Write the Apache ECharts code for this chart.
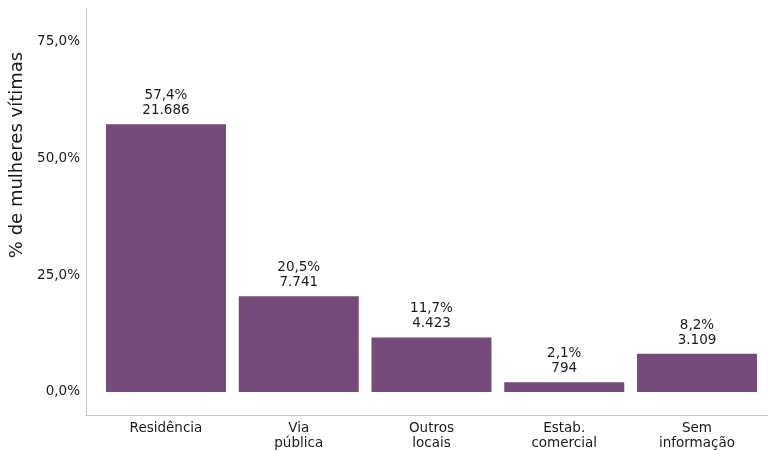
<!DOCTYPE html>
<html>
<head>
<meta charset="utf-8">
<script src="https://cdn.jsdelivr.net/npm/echarts@6/dist/echarts.min.js"></script>
<style>html,body{margin:0;padding:0;background:#fff}#c{width:768px;height:451px}</style>
</head>
<body>
<div id="c"></div>
<script>
const categories = ["Residência", "Via\npública", "Outros\nlocais", "Estab.\ncomercial", "Sem\ninformação"];
const percentValues = [57.4, 20.5, 11.7, 2.1, 8.2];
const countValues = [21686, 7741, 4423, 794, 3109];
const yTickValues = [0, 25, 50, 75];
const yAxisTitle = "% de mulheres vítimas";

const FONT = "DejaVu Sans";
function fmtPct(v) { return v.toFixed(1).replace('.', ',') + '%'; }
function fmtCount(v) { return String(v).replace(/\B(?=(\d{3})+(?!\d))/g, '.'); }

const chart = echarts.init(document.getElementById('c'), null, {renderer: 'canvas'});
chart.setOption({
  animation: false,
  backgroundColor: '#fff',
  textStyle: {fontFamily: FONT},
  grid: {left: 86, right: 0, top: 9, bottom: 36},
  xAxis: {
    type: 'value',
    min: -0.6026, max: 4.535,
    splitLine: {show: false},
    axisLine: {show: true, onZero: false, lineStyle: {color: '#c8c8c8', width: 1}},
    axisTick: {show: false},
    axisLabel: {
      customValues: categories.map((c, i) => i),
      formatter: v => categories[Math.round(v)],
      color: '#1a1a1a', fontFamily: FONT, fontSize: 13.5, lineHeight: 15, margin: 6
    }
  },
  yAxis: {
    type: 'value',
    min: -4.93, max: 82.07,
    splitLine: {show: false},
    axisLine: {show: true, onZero: false, lineStyle: {color: '#c8c8c8', width: 1}},
    axisTick: {show: false},
    axisLabel: {
      customValues: yTickValues,
      formatter: v => fmtPct(v),
      color: '#1a1a1a', fontFamily: FONT, fontSize: 13.5, margin: 6
    }
  },
  graphic: [{
    type: 'text', x: 17, y: 155, rotation: Math.PI / 2,
    style: {text: yAxisTitle, fill: '#1a1a1a', font: '18px ' + FONT, textAlign: 'center', textVerticalAlign: 'middle'}
  }],
  series: [{
    type: 'bar',
    barWidth: 120,
    itemStyle: {color: '#764b79'},
    data: percentValues.map((v, i) => [i, v]),
    label: {
      show: true, position: 'top', distance: 6,
      color: '#1a1a1a', fontFamily: FONT, fontSize: 13.5, lineHeight: 15,
      formatter: p => fmtPct(percentValues[p.dataIndex]) + '\n' + fmtCount(countValues[p.dataIndex])
    }
  }]
});
</script>
</body>
</html>
